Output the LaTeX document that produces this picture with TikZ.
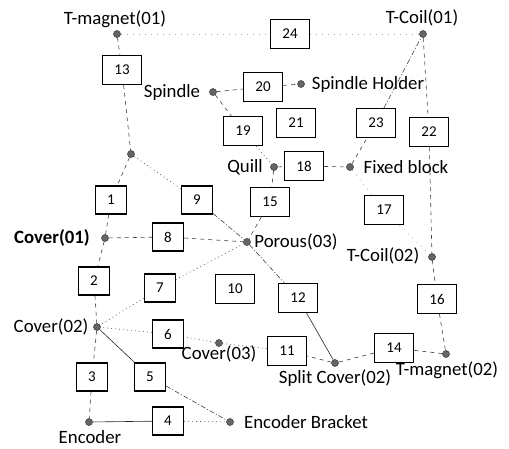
\documentclass[tikz,border=0pt]{standalone}
\usepackage{fontspec}
\setmainfont{Carlito}
\begin{document}
\begin{tikzpicture}[x=1pt,y=-1pt,
  box/.style={draw=black, line width=1.2pt, fill=white, minimum width=39pt,
    minimum height=29pt, inner sep=0pt, font=\fontsize{15}{16}\selectfont},
  sbox/.style={box, minimum width=31pt, minimum height=28pt},
  part/.style={circle, fill=black!60, draw=black!80, line width=0.5pt,
    inner sep=0pt, minimum size=7pt},
  lbl/.style={inner sep=0pt, font=\fontsize{18.8}{20}\selectfont},
  link/.style={draw=black!75, line width=0.6pt, dash pattern=on 4pt off 4pt},
  dotlink/.style={draw=black!65, line width=0.6pt, dash pattern=on 1pt off 3pt},
  dashdot/.style={draw=black!75, line width=0.6pt,
    dash pattern=on 5pt off 2pt on 1pt off 2pt},
  solidlink/.style={draw=black!85, line width=0.6pt},
  faint/.style={draw=black!35, line width=0.6pt, dash pattern=on 1pt off 5pt}]
\useasboundingbox (0,0) rectangle (509,448);

% parts (junction points)
\node[part] (tm1)  at (117,34)  {};
\node[part] (tc1)  at (423,34)  {};
\node[part] (spn)  at (213,92)  {};
\node[part] (sph)  at (301,84)  {};
\node[part] (mid)  at (131,154) {};
\node[part] (qul)  at (274,167) {};
\node[part] (fxb)  at (350,167) {};
\node[part] (cv1)  at (105,238) {};
\node[part] (por)  at (247,242) {};
\node[part] (tc2)  at (432,257) {};
\node[part] (cv2)  at (97,327)  {};
\node[part] (cv3)  at (219,343) {};
\node[part] (tm2)  at (446,354) {};
\node[part] (spc)  at (335,363) {};
\node[part] (enc)  at (89,422)  {};
\node[part] (ebr)  at (230,422) {};

% part names
\node[lbl] (ltm1) at (115,19)  {T-magnet(01)};
\node[lbl] (ltc1) at (422,18)  {T-Coil(01)};
\node[lbl] (lspn) at (172,92)  {Spindle};
\node[lbl] (lsph) at (368,84)  {Spindle Holder};
\node[lbl] (lqul) at (245,167) {Quill};
\node[lbl] (lfxb) at (406,167) {Fixed block};
\node[lbl, font=\fontsize{18.8}{20}\selectfont\bfseries] (lcv1) at (52,238) {Cover(01)};
\node[lbl] (lpor) at (296,242) {Porous(03)};
\node[lbl] (ltc2) at (383,256) {T-Coil(02)};
\node[lbl] (lcv2) at (51,327)  {Cover(02)};
\node[lbl] (lcv3) at (219,354) {Cover(03)};
\node[lbl] (lspc) at (335,378) {Split Cover(02)};
\node[lbl] (ltm2) at (447,370) {T-magnet(02)};
\node[lbl] (lenc) at (90,437)  {Encoder};
\node[lbl] (lebr) at (306,422) {Encoder Bracket};

% numbered relations
\node[sbox] (b1)  at (111,200) {1};
\node[sbox] (b2)  at (94,281)  {2};
\node[sbox] (b3)  at (92,377)  {3};
\node[sbox] (b4)  at (168,421) {4};
\node[sbox] (b5)  at (150,377) {5};
\node[sbox] (b6)  at (168,334) {6};
\node[sbox] (b7)  at (160,288) {7};
\node[sbox] (b8)  at (168,237) {8};
\node[sbox] (b9)  at (197,200) {9};
\node[box]  (b10) at (235,289) {10};
\node[box]  (b11) at (287,351) {11};
\node[box]  (b12) at (298,298) {12};
\node[box]  (b13) at (122,70)  {13};
\node[box]  (b14) at (394,348) {14};
\node[box]  (b15) at (270,202) {15};
\node[box]  (b16) at (437,299) {16};
\node[box]  (b17) at (384,210) {17};
\node[box]  (b18) at (304,166) {18};
\node[box]  (b19) at (243,131) {19};
\node[box]  (b20) at (263,87)  {20};
\node[box]  (b21) at (296,123) {21};
\node[box]  (b22) at (429,132) {22};
\node[box]  (b23) at (376,123) {23};
\node[box]  (b24) at (290,34)  {24};

% connectors
\draw[link]      (tm1) -- (b13);
\draw[faint]     (tm1) -- (b24);
\draw[faint]     (b24) -- (tc1);
\draw[link]      (b13) -- (mid);
\draw[link]      (mid) -- (b1);
\draw[dotlink]   (mid) -- (b9);
\draw[link]      (b1)  -- (cv1);
\draw[link]      (cv1) -- (b8);
\draw[link]      (b8)  -- (por);
\draw[dashdot]   (b9)  -- (por);
\draw[link]      (b15) -- (por);
\draw[link]      (qul) -- (b15);
\draw[dotlink]   (b19) -- (qul);
\draw[link]      (spn) -- (b19);
\draw[link]      (spn) -- (b20);
\draw[link]      (b20) -- (sph);
\draw[link]      (qul) -- (b18);
\draw[link]      (b18) -- (fxb);
\draw[link]      (fxb) -- (b23);
\draw[dashdot]   (b23) -- (tc1);
\draw[link]      (tc1) -- (b22);
\draw[link]      (b22) -- (tc2);
\draw[faint]     (fxb) -- (b17);
\draw[faint]     (b17) -- (tc2);
\draw[link]      (tc2) -- (b16);
\draw[link]      (b16) -- (tm2);
\draw[link]      (tm2) -- (b14);
\draw[link]      (b14) -- (spc);
\draw[link]      (spc) -- (b11);
\draw[solidlink] (b12) -- (spc);
\draw[dashdot]   (por) -- (b12);
\draw[dotlink]   (b11) -- (cv3);
\draw[dotlink]   (cv3) -- (b6);
\draw[dotlink]   (b6)  -- (cv2);
\draw[dotlink]   (por) -- (b7);
\draw[dotlink]   (b7)  -- (cv2);
\draw[link]      (cv1) -- (b2);
\draw[link]      (b2)  -- (cv2);
\draw[link]      (cv2) -- (b3);
\draw[link]      (b3)  -- (enc);
\draw[solidlink] (enc) -- (b4);
\draw[dotlink]   (b4)  -- (ebr);
\draw[solidlink] (cv2) -- (b5);
\draw[dashdot]   (b5)  -- (ebr);
\end{tikzpicture}
\end{document}
